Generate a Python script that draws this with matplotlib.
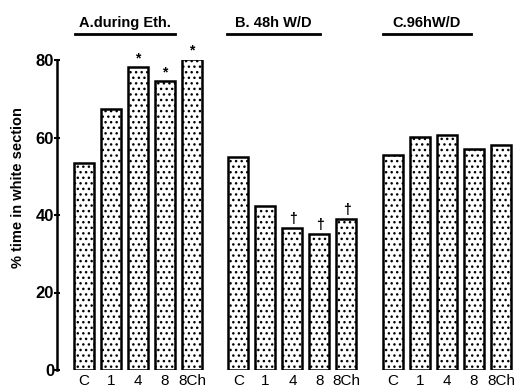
import numpy as np
import matplotlib
matplotlib.use('Agg')
import matplotlib.pyplot as plt
from matplotlib.lines import Line2D

plt.rcParams['font.family'] = ['Liberation Sans', 'DejaVu Sans']
plt.rcParams['hatch.linewidth'] = 1.0

# data
groups = ['A.during Eth.', 'B. 48h W/D', 'C.96hW/D']
labels = ['C', '1', '4', '8', '8Ch']
during_eth = [53.4, 67.3, 78.2, 74.6, 80.2]
wd_48h = [55.0, 42.2, 36.6, 35.1, 39.0]
wd_96h = [55.5, 60.2, 60.6, 57.0, 58.0]
marks_a = ['', '', '*', '*', '*']
marks_b = ['', '', '\u2020', '\u2020', '\u2020']
marks_c = ['', '', '', '', '']

fig = plt.figure(figsize=(5.19, 3.92), dpi=100)
ax = fig.add_axes([57 / 519, 22 / 392, 458 / 519, 310 / 392])

gap = 1.72
series = [during_eth, wd_48h, wd_96h]
marks = [marks_a, marks_b, marks_c]
xticks = []
xlabels = []
for g, (vals, mk) in enumerate(zip(series, marks)):
    x = np.arange(len(vals)) + g * (len(vals) - 1 + gap)
    ax.bar(x, vals, width=0.74, color='white', edgecolor='black',
           linewidth=1.8, hatch='...')
    for xi, v, m in zip(x, vals, mk):
        if m:
            ax.text(xi, v + 0.5, m, ha='center', va='bottom',
                    fontsize=10, fontweight='bold')
    xticks += list(x)
    xlabels += labels

ax.set_xlim(-1.0, 15.96)
ax.set_ylim(0, 80)
ax.set_yticks([0, 20, 40, 60, 80])
ax.set_yticklabels(['0', '20', '40', '60', '80'], fontsize=12, fontweight='bold')
ax.set_xticks(xticks)
ax.set_xticklabels(xlabels, fontsize=11)
ax.tick_params(axis='x', length=0, pad=3)
ax.tick_params(axis='y', length=4, width=1.5, direction='inout', pad=0)
for s in ['top', 'right', 'bottom']:
    ax.spines[s].set_visible(False)
ax.spines['left'].set_linewidth(1.8)

fig.text(18 / 519, 1 - 188 / 392, '% time in white section', rotation=90,
         ha='center', va='center', fontsize=10.5, fontweight='bold')

# panel titles, underlined
title_pos = [(75, 175), (227, 320), (383, 471)]
for name, (x0, x1) in zip(groups, title_pos):
    fig.text((x0 + x1) / 2 / 519, 1 - 23 / 392, name, ha='center',
             va='center', fontsize=10.5, fontweight='bold')
    fig.add_artist(Line2D([x0 / 519, x1 / 519], [1 - 34 / 392, 1 - 34 / 392],
                          color='black', linewidth=2))

fig.savefig('out.png', dpi=100)
